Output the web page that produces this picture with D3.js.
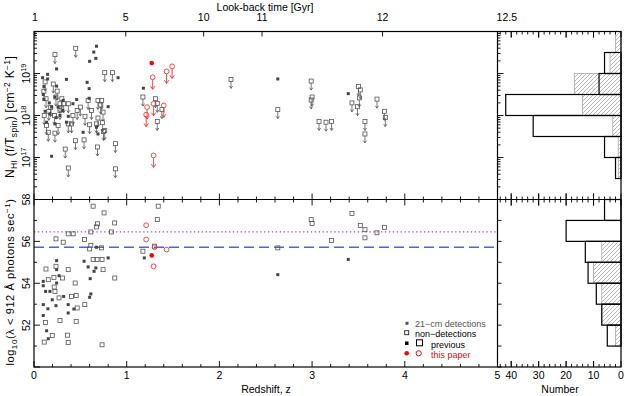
<!DOCTYPE html>
<html>
<head>
<meta charset="utf-8">
<script src="https://cdn.jsdelivr.net/npm/d3@7"></script>
<style>
  body { margin: 0; background: #fff; }
  text { font-family: "Liberation Sans", Arial, sans-serif; }
</style>
</head>
<body>
<script>
(function() {

    // ---- data ----
    // upper panel: [redshift, log10 N_HI (f/T_spin)]
    var nhiDetPrev = [
        [0.674,19.65],[0.645,19.51],[0.60,19.29],[0.667,19.36],[0.244,19.11],[0.093,18.90],
        [0.147,18.98],[0.147,18.87],[0.35,18.86],[0.573,18.79],[0.907,18.90],[0.244,18.70],
        [0.595,18.64],[0.107,18.69],[0.10,18.50],[0.107,18.38],[0.226,18.44],[0.315,18.36],
        [0.42,18.28],[0.595,18.41],[0.80,18.21],[0.19,18.20],[0.26,18.20],[0.172,18.04],
        [0.28,18.00],[0.37,17.98],[0.53,17.60],[0.19,17.03],[1.18,18.65],[0.136,17.84],
        [0.226,17.80],[0.35,17.84],[0.674,17.72],[0.69,17.56],[2.63,18.87],[3.39,18.52],
        [0.12,18.10],[0.165,18.30],[0.24,17.95],[0.31,18.12],[0.46,18.38]
    ];
    var nhiNonDetPrev = [
        [0.226,19.45],[0.45,19.60],[0.763,19.02],[0.846,19.02],[0.107,18.58],[0.13,18.40],
        [0.208,18.75],[0.237,18.44],[0.28,18.28],[0.28,18.12],[0.32,18.28],[0.37,18.28],
        [0.466,18.12],[0.42,18.00],[0.55,17.98],[0.584,18.36],[0.62,18.12],[0.69,18.36],
        [0.73,18.36],[0.72,18.25],[0.745,18.08],[0.69,17.94],[0.60,17.78],[0.674,17.80],
        [0.763,17.64],[0.11,18.00],[0.136,17.76],[0.154,17.60],[0.22,18.00],[0.26,17.76],
        [0.37,17.80],[0.405,17.80],[0.226,17.58],[0.448,17.40],[0.54,17.42],[0.337,17.20],
        [0.685,17.25],[0.878,17.33],[0.37,16.75],[0.878,16.73],[0.18,18.19],[0.30,18.40],
        [0.74,17.83],[0.75,17.62],[0.12,18.80],[0.16,18.10],[0.25,18.58],[0.50,18.20],
        [1.175,18.44],[1.31,18.40],[1.33,18.29],[1.38,18.14],[1.33,17.86],[2.125,18.86],
        [2.63,18.14],[2.99,18.82],[3.0,18.44],[2.99,18.37],[3.075,17.86],[3.15,17.84],
        [3.21,17.86],[3.50,18.69],[3.52,18.61],[3.51,18.42],[3.43,18.30],[3.49,18.21],
        [3.70,18.39],[3.57,17.86],[3.57,17.56],[3.78,18.10],[3.79,17.95]
    ];
    var nhiDetNew = [[1.27,19.25]];
    var nhiNonDetNew = [
        [1.28,18.91],[1.43,19.05],[1.49,19.17],[1.22,18.20],[1.21,18.02],[1.29,18.28],
        [1.40,18.24],[1.29,17.05]
    ];

    // lower panel: [redshift, log10 ionising photon rate]
    var lumDetPrev = [
        [0.10,54.09],[0.10,53.88],[0.125,53.61],[0.172,53.61],[0.244,54.65],[0.244,55.08],
        [0.27,54.36],[0.244,54.01],[0.197,53.21],[0.237,52.93],[0.10,52.98],[0.15,52.78],
        [0.10,52.46],[0.369,52.98],[0.369,52.58],[0.43,52.77],[0.32,53.37],[0.136,51.73],
        [0.154,51.35],[0.54,55.05],[0.584,54.78],[0.648,54.57],[0.667,54.73],[0.606,54.22],
        [0.613,53.49],[0.60,53.33],[0.674,55.72],[0.80,55.21],[1.19,55.21],[2.63,54.41],
        [3.39,55.14]
    ];
    var lumNonDetPrev = [
        [0.638,57.68],[0.756,57.36],[0.685,56.84],[0.674,56.69],[0.87,56.88],[0.613,56.45],
        [0.835,56.45],[0.369,56.36],[0.423,56.36],[0.315,55.96],[0.237,56.12],[0.545,56.09],
        [0.613,55.81],[0.60,55.64],[0.728,55.69],[0.638,55.13],[0.68,55.13],[0.734,55.13],
        [0.745,54.65],[0.871,54.25],[0.369,54.65],[0.237,54.81],[0.129,54.68],[0.154,54.17],
        [0.215,54.28],[0.308,54.25],[0.444,54.01],[0.218,53.82],[0.226,53.61],[0.27,53.30],
        [0.405,53.37],[0.455,53.42],[0.548,52.98],[0.466,52.82],[0.28,52.22],[0.125,52.13],
        [0.455,52.18],[0.197,51.51],[0.362,51.52],[0.11,51.19],[0.369,51.17],[0.734,51.06],
        [1.175,55.53],[1.30,55.77],[1.33,57.04],[1.34,57.68],[2.63,55.69],[2.99,57.04],
        [3.0,56.85],[3.21,56.04],[3.43,57.33],[3.52,56.76],[3.57,56.56],[3.57,56.17],
        [3.70,56.41],[3.78,56.67]
    ];
    var lumDetNew = [[1.27,55.33]];
    var lumNonDetNew = [[1.21,56.77],[1.21,56.09],[1.30,55.72],[1.43,55.61],[1.29,54.81]];

    // reference levels in the lower panel (dotted, dashed)
    var lumLevels = [56.45, 55.72];

    // histograms (bins from low to high)
    var nhiBinEdges = [16, 16.5, 17, 17.5, 18, 18.5, 19, 19.5, 20];
    var nhiOpenCounts = [0, 2, 6, 32, 42, 8, 6, 0];
    var nhiHatchCounts = [0, 1, 1, 3, 14, 17, 4, 2];
    var lumBinEdges = [50, 51, 52, 53, 54, 55, 56, 57, 58];
    var lumOpenCounts = [0, 5, 7, 9, 12, 13, 20, 6];
    var lumHatchCounts = [0, 2, 7, 7, 10, 7, 0, 0];

    // top axis: look-back time labels and where they sit in redshift
    var lookbackLabels = ['1', '5', '10', '11', '12', '12.5'];
    var lookbackZ = [0.01, 0.99, 1.83, 2.46, 3.76, 5.1];

    // ---- layout ----
    var W = 625, H = 396;
    var left = 34, mainRight = 497.5, histRight = 621;
    var top = 31.5, mid = 199.5, bottom = 367;

    var x = d3.scaleLinear().domain([0, 5]).range([left, mainRight]);
    var yTop = d3.scaleLog().domain([1e16, 1e20]).range([mid, top]);
    var yBot = d3.scaleLinear().domain([50, 58]).range([bottom, mid]);
    var hx = d3.scaleLinear().domain([45, 0]).range([mainRight, histRight]);

    var svg = d3.select('body').append('svg')
        .attr('width', W)
        .attr('height', H);

    // hatch pattern
    var pat = svg.append('defs').append('pattern')
        .attr('id', 'hatch')
        .attr('patternUnits', 'userSpaceOnUse')
        .attr('width', 4).attr('height', 4);
    pat.append('path')
        .attr('d', 'M-1,1 l2,-2 M0,4 l4,-4 M3,5 l2,-2')
        .attr('stroke', '#999').attr('stroke-width', 0.7);

    // ---- histograms ----
    function histo(edges, counts, yScale, isLog, hatched) {
        var g = svg.append('g');
        counts.forEach(function(c, i) {
            if (!c) return;
            var y0 = isLog ? yScale(Math.pow(10, edges[i])) : yScale(edges[i]);
            var y1 = isLog ? yScale(Math.pow(10, edges[i + 1])) : yScale(edges[i + 1]);
            g.append('rect')
                .attr('x', hx(c))
                .attr('y', y1)
                .attr('width', hx(0) - hx(c))
                .attr('height', y0 - y1)
                .attr('fill', hatched ? 'url(#hatch)' : 'none')
                .attr('stroke', hatched ? '#aaa' : '#000')
                .attr('stroke-width', hatched ? 0.8 : 1.2);
        });
    }
    histo(nhiBinEdges, nhiHatchCounts, yTop, true, true);
    histo(nhiBinEdges, nhiOpenCounts, yTop, true, false);
    histo(lumBinEdges, lumHatchCounts, yBot, false, true);
    histo(lumBinEdges, lumOpenCounts, yBot, false, false);

    // ---- reference lines ----
    svg.append('line')
        .attr('x1', left).attr('x2', mainRight)
        .attr('y1', yBot(lumLevels[0])).attr('y2', yBot(lumLevels[0]))
        .attr('stroke', '#a040ff').attr('stroke-width', 1.3)
        .attr('stroke-dasharray', '1.3,2.6');
    svg.append('line')
        .attr('x1', left).attr('x2', mainRight)
        .attr('y1', yBot(lumLevels[1])).attr('y2', yBot(lumLevels[1]))
        .attr('stroke', '#4f5cff').attr('stroke-width', 1.5)
        .attr('stroke-dasharray', '10,5');

    // ---- markers ----
    function py(d, yScale, isLog) {
        return isLog ? yScale(Math.pow(10, d[1])) : yScale(d[1]);
    }
    function filledSquares(data, yScale, isLog, col) {
        svg.append('g').selectAll('rect').data(data).enter().append('rect')
            .attr('x', function(d) { return x(d[0]) - 1.5; })
            .attr('y', function(d) { return py(d, yScale, isLog) - 1.5; })
            .attr('width', 3).attr('height', 3)
            .attr('fill', col);
    }
    function openSquares(data, yScale, isLog, arrows) {
        var g = svg.append('g');
        if (arrows) {
            g.selectAll('path').data(data).enter().append('path')
                .attr('d', function(d) {
                    var cx = x(d[0]), cy = py(d, yScale, isLog);
                    return 'M' + cx + ',' + (cy + 2) + 'V' + (cy + 9) +
                        'M' + (cx - 1.6) + ',' + (cy + 6.6) + 'L' + cx + ',' + (cy + 9) +
                        'L' + (cx + 1.6) + ',' + (cy + 6.6);
                })
                .attr('fill', 'none').attr('stroke', '#555').attr('stroke-width', 0.8);
        }
        g.selectAll('rect').data(data).enter().append('rect')
            .attr('x', function(d) { return x(d[0]) - 2; })
            .attr('y', function(d) { return py(d, yScale, isLog) - 2; })
            .attr('width', 4).attr('height', 4)
            .attr('fill', 'none').attr('stroke', '#555').attr('stroke-width', 0.8);
    }
    function redCircles(data, yScale, isLog, arrows) {
        var g = svg.append('g');
        if (arrows) {
            g.selectAll('path').data(data).enter().append('path')
                .attr('d', function(d) {
                    var cx = x(d[0]), cy = py(d, yScale, isLog);
                    return 'M' + cx + ',' + (cy + 2.5) + 'V' + (cy + 12) +
                        'M' + (cx - 2.2) + ',' + (cy + 8.8) + 'L' + cx + ',' + (cy + 12) +
                        'L' + (cx + 2.2) + ',' + (cy + 8.8);
                })
                .attr('fill', 'none').attr('stroke', '#f33').attr('stroke-width', 0.9);
        }
        g.selectAll('circle').data(data).enter().append('circle')
            .attr('cx', function(d) { return x(d[0]); })
            .attr('cy', function(d) { return py(d, yScale, isLog); })
            .attr('r', 2.4)
            .attr('fill', 'none').attr('stroke', '#f33').attr('stroke-width', 0.9);
    }
    function redDots(data, yScale, isLog) {
        svg.append('g').selectAll('circle').data(data).enter().append('circle')
            .attr('cx', function(d) { return x(d[0]); })
            .attr('cy', function(d) { return py(d, yScale, isLog); })
            .attr('r', 2.3)
            .attr('fill', '#f00');
    }

    openSquares(nhiNonDetPrev, yTop, true, true);
    filledSquares(nhiDetPrev, yTop, true, '#444');
    redCircles(nhiNonDetNew, yTop, true, true);
    redDots(nhiDetNew, yTop, true);

    openSquares(lumNonDetPrev, yBot, false, false);
    filledSquares(lumDetPrev, yBot, false, '#444');
    redCircles(lumNonDetNew, yBot, false, false);
    redDots(lumDetNew, yBot, false);

    // ---- ticks ----
    var tk = svg.append('g').attr('stroke', '#000').attr('stroke-width', 0.9);
    function tick(x1, y1, x2, y2) {
        tk.append('line').attr('x1', x1).attr('y1', y1).attr('x2', x2).attr('y2', y2);
    }
    // redshift ticks on bottom, divider (both sides)
    d3.range(0, 5.001, 0.2).forEach(function(z) {
        var major = Math.abs(z - Math.round(z)) < 1e-6;
        var L = major ? 6 : 3;
        tick(x(z), bottom, x(z), bottom - L);
        tick(x(z), mid, x(z), mid - L);
        tick(x(z), mid, x(z), mid + L);
    });
    // look-back ticks on top
    lookbackZ.forEach(function(z) {
        if (x(z) <= mainRight) tick(x(z), top, x(z), top + 5);
    });
    // log ticks, left of main and left of histogram
    d3.range(16, 20).forEach(function(e) {
        d3.range(1, 10).forEach(function(k) {
            var yy = yTop(k * Math.pow(10, e));
            var L = k === 1 ? 6 : 3;
            tick(left, yy, left + L, yy);
            tick(mainRight, yy, mainRight + L, yy);
        });
    });
    // linear ticks in lower panel
    d3.range(50, 58.01, 1).forEach(function(v) {
        var L = v % 2 === 0 ? 6 : 3;
        tick(left, yBot(v), left + L, yBot(v));
        tick(mainRight, yBot(v), mainRight + 4, yBot(v));
    });
    // histogram count ticks
    d3.range(0, 45.01, 2).concat([10, 20, 30, 40]).forEach(function(n) {
        var L = n % 10 === 0 ? 6 : 3;
        tick(hx(n), top, hx(n), top + L);
        tick(hx(n), mid, hx(n), mid - L);
        tick(hx(n), mid, hx(n), mid + L);
        tick(hx(n), bottom, hx(n), bottom - L);
    });

    // ---- frames ----
    var fr = svg.append('g').attr('fill', 'none').attr('stroke', '#000').attr('stroke-width', 1.2);
    fr.append('rect').attr('x', left).attr('y', top)
        .attr('width', histRight - left).attr('height', bottom - top);
    fr.append('line').attr('x1', left).attr('x2', histRight).attr('y1', mid).attr('y2', mid);
    fr.append('line').attr('x1', mainRight).attr('x2', mainRight).attr('y1', top).attr('y2', bottom);

    // ---- tick labels ----
    var lab = svg.append('g').attr('font-size', 10.5).attr('fill', '#000');
    d3.range(0, 6).forEach(function(z) {
        lab.append('text').attr('x', x(z)).attr('y', bottom + 12)
            .attr('text-anchor', 'middle').text(z);
    });
    [40, 30, 20, 10, 0].forEach(function(n) {
        lab.append('text').attr('x', hx(n)).attr('y', bottom + 12)
            .attr('text-anchor', 'middle').text(n);
    });
    lookbackLabels.forEach(function(t, i) {
        lab.append('text').attr('x', x(lookbackZ[i])).attr('y', 21)
            .attr('text-anchor', 'middle').text(t);
    });
    [17, 18, 19].forEach(function(e) {
        var t = lab.append('text')
            .attr('transform', 'translate(30,' + yTop(Math.pow(10, e)) + ') rotate(-90)')
            .attr('text-anchor', 'middle');
        t.append('tspan').text('10');
        t.append('tspan').attr('font-size', 7.5).attr('dy', -4).text(e);
    });
    [52, 54, 56, 58].forEach(function(v) {
        lab.append('text')
            .attr('transform', 'translate(30,' + yBot(v) + ') rotate(-90)')
            .attr('text-anchor', 'middle').text(v);
    });

    // ---- axis titles ----
    lab.append('text').attr('x', 265).attr('y', 10.5).attr('text-anchor', 'middle')
        .text('Look-back time [Gyr]');
    lab.append('text').attr('x', 266).attr('y', 393).attr('text-anchor', 'middle')
        .text('Redshift, z');
    lab.append('text').attr('x', 560).attr('y', 393).attr('text-anchor', 'middle')
        .text('Number');

    var t1 = lab.append('text')
        .attr('transform', 'translate(14,' + 117 + ') rotate(-90)')
        .attr('text-anchor', 'middle').attr('font-size', 12).attr('letter-spacing', 0.3);
    t1.append('tspan').text('N');
    t1.append('tspan').attr('font-size', 8.5).attr('dy', 3).text('HI');
    t1.append('tspan').attr('dy', -3).text(' (f/T');
    t1.append('tspan').attr('font-size', 8.5).attr('dy', 3).text('spin');
    t1.append('tspan').attr('dy', -3).text(') [cm');
    t1.append('tspan').attr('font-size', 8.5).attr('dy', -4.5).text('\u22122');
    t1.append('tspan').attr('dy', 4.5).text(' K');
    t1.append('tspan').attr('font-size', 8.5).attr('dy', -4.5).text('\u22121');
    t1.append('tspan').attr('dy', 4.5).text(']');

    var t2 = lab.append('text')
        .attr('transform', 'translate(14,' + 282 + ') rotate(-90)')
        .attr('text-anchor', 'middle').attr('font-size', 11).attr('letter-spacing', 0.6);
    t2.append('tspan').text('log');
    t2.append('tspan').attr('font-size', 8).attr('dy', 3).text('10');
    t2.append('tspan').attr('dy', -3).text('(\u03bb < 912 \u00c5 photons sec');
    t2.append('tspan').attr('font-size', 8).attr('dy', -4.5).text('\u22121');
    t2.append('tspan').attr('dy', 4.5).text(')');

    // ---- legend ----
    var lg = svg.append('g').attr('font-size', 9);
    lg.append('rect').attr('x', 405.5).attr('y', 321.8).attr('width', 3).attr('height', 3).attr('fill', '#555');
    lg.append('text').attr('x', 415).attr('y', 326.5).attr('fill', '#555').text('21\u2212cm detections');
    lg.append('rect').attr('x', 404.7).attr('y', 330.7).attr('width', 4).attr('height', 4)
        .attr('fill', 'none').attr('stroke', '#222').attr('stroke-width', 0.9);
    lg.append('text').attr('x', 415).attr('y', 337).attr('fill', '#000').text('non\u2212detections');
    lg.append('rect').attr('x', 405).attr('y', 341.5).attr('width', 3.5).attr('height', 3.5).attr('fill', '#000');
    lg.append('rect').attr('x', 416.5).attr('y', 339.8).attr('width', 6).attr('height', 6)
        .attr('fill', 'none').attr('stroke', '#000').attr('stroke-width', 1);
    lg.append('text').attr('x', 431).attr('y', 347.5).attr('fill', '#000').text('previous');
    lg.append('circle').attr('cx', 406.7).attr('cy', 353.3).attr('r', 2.3).attr('fill', '#f00');
    lg.append('circle').attr('cx', 418.7).attr('cy', 353.3).attr('r', 2.6)
        .attr('fill', 'none').attr('stroke', '#f00').attr('stroke-width', 1);
    lg.append('text').attr('x', 431).attr('y', 358).attr('fill', '#f00').text('this paper');

})();
</script>
</body>
</html>
